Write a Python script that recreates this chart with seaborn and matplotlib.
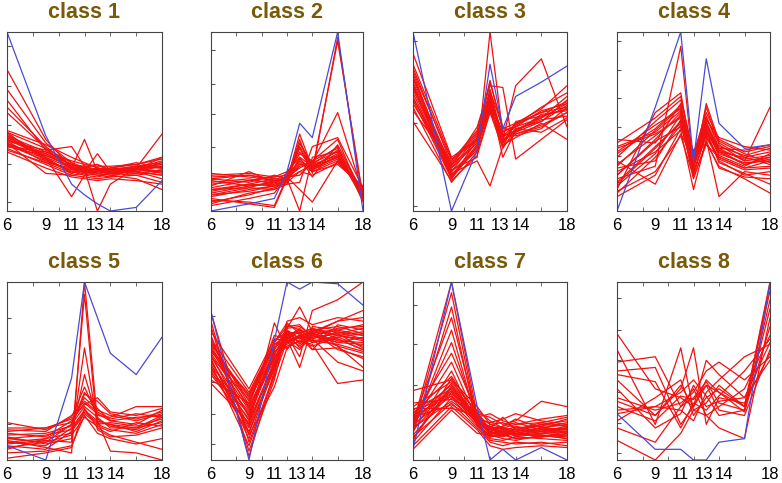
import matplotlib
matplotlib.use("Agg")
import matplotlib.pyplot as plt
import seaborn as sns
import pandas as pd

# sampling times (hours)
times = [6, 9, 11, 12, 13, 14, 16, 18]
tick_pos = [6, 9, 11, 12.8, 14.4, 18]
tick_labels = ["6", "9", "11", "13", "14", "18"]

# --- profiles (0 = panel bottom, 100 = panel top) ---
class1_red = [
    [40, 30, 24, 22, 24, 22, 24, 26], [42, 33, 26, 25, 22, 23, 22, 20],
    [38, 29, 22, 24, 21, 22, 24, 28], [36, 31, 25, 21, 23, 20, 23, 22],
    [44, 35, 27, 24, 26, 23, 25, 24], [34, 27, 21, 23, 20, 21, 22, 18],
    [39, 34, 36, 25, 23, 24, 26, 29], [41, 32, 24, 40, 22, 21, 23, 25],
    [37, 28, 23, 22, 32, 22, 21, 23], [35, 26, 20, 19, 18, 19, 20, 16],
    [33, 24, 19, 18, 17, 18, 17, 15], [58, 36, 25, 23, 22, 24, 23, 27],
    [62, 34, 26, 24, 21, 22, 24, 26], [68, 38, 27, 22, 24, 21, 25, 24],
    [79, 40, 24, 23, 22, 23, 22, 25], [55, 35, 23, 25, 26, 22, 21, 23],
    [43, 30, 8, 20, 22, 23, 24, 22], [40, 31, 25, 23, 0, 15, 24, 21],
    [38, 21, 20, 21, 20, 19, 24, 43], [36, 33, 28, 26, 25, 25, 26, 30],
    [42, 29, 22, 20, 19, 21, 22, 20], [39, 27, 24, 22, 21, 20, 18, 12],
    [45, 37, 30, 27, 24, 23, 25, 27], [41, 30, 21, 24, 22, 24, 27, 24],
    [37, 32, 26, 23, 23, 21, 20, 22], [44, 28, 22, 21, 24, 22, 23, 30],
]
class1_blue = [[100, 42, 15, 9, 4, 0, 2, 17]]

class2_red = [
    [18, 20, 17, 18, 38, 24, 30, 10], [15, 17, 16, 19, 35, 22, 28, 12],
    [12, 15, 18, 17, 30, 25, 32, 9], [20, 21, 19, 20, 28, 23, 29, 11],
    [8, 12, 14, 18, 25, 27, 33, 8], [5, 9, 13, 16, 22, 26, 31, 7],
    [3, 7, 10, 19, 24, 28, 35, 10], [10, 14, 15, 17, 43, 24, 30, 12],
    [14, 22, 16, 18, 40, 21, 97, 6], [16, 18, 15, 20, 36, 23, 95, 8],
    [12, 13, 17, 19, 20, 27, 55, 10], [9, 11, 14, 15, 16, 36, 41, 13],
    [7, 4, 2, 18, 0, 30, 33, 9], [6, 5, 3, 19, 12, 5, 28, 11],
    [18, 16, 20, 18, 27, 22, 26, 14], [21, 19, 17, 21, 33, 24, 34, 6],
    [13, 17, 19, 22, 30, 19, 37, 10], [11, 15, 14, 17, 26, 25, 30, 12],
    [17, 14, 16, 18, 22, 20, 27, 13], [4, 10, 12, 15, 38, 26, 36, 5],
    [19, 20, 18, 17, 29, 23, 31, 8], [9, 13, 12, 20, 32, 28, 40, 7],
]
class2_blue = [[0, 4, 7, 22, 49, 41, 100, 0]]

class3_red = [
    [88, 30, 40, 68, 40, 45, 52, 60], [80, 26, 38, 62, 44, 48, 55, 58],
    [75, 24, 42, 65, 38, 46, 50, 62], [70, 22, 35, 60, 42, 44, 54, 56],
    [66, 20, 37, 58, 36, 43, 48, 55], [62, 18, 40, 64, 41, 47, 56, 60],
    [58, 16, 33, 56, 39, 45, 51, 53], [78, 28, 45, 72, 46, 49, 57, 70],
    [72, 23, 30, 100, 43, 42, 46, 58], [68, 21, 28, 14, 36, 50, 53, 57],
    [60, 25, 47, 70, 69, 29, 40, 51], [64, 19, 36, 57, 40, 70, 85, 47],
    [56, 27, 44, 66, 37, 41, 49, 40], [82, 29, 39, 73, 45, 47, 52, 64],
    [50, 17, 31, 55, 35, 46, 44, 52], [74, 22, 41, 61, 42, 48, 58, 66],
    [69, 26, 43, 63, 40, 44, 50, 59], [77, 20, 34, 67, 47, 43, 47, 55],
    [63, 24, 38, 59, 38, 49, 55, 61], [71, 18, 36, 62, 30, 45, 53, 57],
]
class3_blue = [[100, 0, 34, 82, 46, 64, 72, 81]]

class4_red = [
    [20, 40, 55, 28, 48, 35, 28, 30], [15, 35, 50, 25, 45, 32, 27, 28],
    [25, 45, 58, 30, 52, 38, 30, 33], [10, 30, 48, 22, 42, 30, 24, 25],
    [30, 50, 62, 32, 55, 40, 33, 36], [35, 43, 52, 27, 50, 34, 29, 31],
    [40, 38, 60, 20, 44, 36, 31, 35], [18, 25, 92, 24, 47, 33, 26, 29],
    [12, 55, 66, 26, 58, 37, 28, 58], [22, 33, 45, 12, 40, 8, 22, 20],
    [28, 15, 43, 30, 38, 25, 18, 10], [8, 20, 46, 34, 41, 29, 23, 24],
    [33, 48, 57, 23, 60, 39, 32, 27], [26, 42, 53, 29, 46, 31, 25, 32],
    [16, 36, 49, 21, 43, 28, 20, 22], [38, 52, 64, 31, 53, 35, 34, 37],
    [24, 28, 51, 18, 39, 24, 19, 18], [14, 32, 54, 26, 49, 33, 30, 26],
    [32, 46, 59, 28, 51, 41, 36, 34], [20, 39, 47, 33, 45, 27, 21, 15],
    [36, 44, 56, 25, 44, 34, 26, 30], [11, 22, 42, 19, 37, 30, 24, 28],
]
class4_blue = [[0, 58, 100, 28, 85, 49, 35, 37]]

class5_red = [
    [10, 8, 18, 28, 22, 20, 16, 22], [12, 10, 20, 30, 24, 18, 18, 25],
    [15, 13, 22, 32, 26, 22, 20, 28], [8, 6, 16, 26, 20, 17, 15, 20],
    [18, 18, 21, 35, 28, 25, 22, 26], [21, 17, 24, 41, 25, 24, 30, 30],
    [6, 12, 15, 48, 23, 19, 17, 24], [13, 9, 12, 63, 20, 21, 19, 23],
    [11, 7, 4, 100, 22, 5, 4, 0], [9, 11, 10, 93, 17, 13, 14, 18],
    [14, 15, 19, 37, 33, 26, 23, 27], [16, 18, 23, 31, 35, 27, 25, 29],
    [4, 5, 8, 25, 15, 12, 9, 12], [1, 4, 7, 29, 18, 14, 10, 6],
    [12, 14, 17, 27, 21, 20, 18, 21], [17, 16, 25, 33, 27, 23, 26, 24],
    [7, 10, 14, 24, 19, 16, 21, 19], [10, 12, 20, 38, 29, 22, 24, 25],
]
class5_blue = [[8, 0, 46, 100, 80, 60, 48, 69]]

class6_red = [
    [62, 30, 60, 70, 68, 72, 70, 68], [58, 25, 58, 68, 72, 70, 66, 65],
    [55, 22, 55, 66, 70, 68, 72, 70], [52, 18, 52, 72, 66, 74, 68, 62],
    [50, 15, 54, 69, 74, 66, 70, 72], [60, 28, 62, 73, 65, 71, 67, 66],
    [65, 35, 64, 71, 69, 73, 75, 71], [68, 38, 66, 75, 76, 69, 71, 74],
    [72, 40, 68, 67, 62, 70, 64, 60], [83, 10, 48, 78, 80, 76, 80, 78],
    [75, 5, 45, 74, 86, 72, 78, 84], [78, 2, 50, 70, 58, 84, 90, 100],
    [48, 20, 77, 62, 71, 67, 69, 64], [45, 32, 70, 68, 52, 75, 73, 70],
    [53, 27, 57, 64, 67, 65, 43, 45], [57, 12, 53, 76, 73, 68, 55, 50],
    [63, 24, 61, 65, 70, 72, 62, 58], [66, 33, 63, 69, 64, 70, 73, 76],
    [59, 19, 56, 72, 71, 74, 70, 67], [54, 8, 47, 67, 69, 66, 68, 62],
    [61, 36, 65, 70, 72, 62, 76, 73], [49, 26, 59, 73, 68, 71, 66, 69],
    [56, 16, 51, 71, 63, 69, 71, 63], [64, 29, 58, 66, 70, 67, 65, 61],
    [70, 14, 41, 63, 67, 64, 69, 71], [51, 23, 62, 74, 75, 70, 74, 75],
    [67, 31, 67, 72, 66, 73, 72, 68], [43, 21, 54, 68, 69, 62, 63, 57],
    [58, 34, 60, 70, 73, 71, 78, 80], [62, 37, 66, 77, 71, 74, 64, 52],
]
class6_blue = [[83, 0, 67, 100, 96, 100, 99, 87]]

class7_red = [
    [20, 100, 25, 15, 16, 14, 17, 15], [18, 94, 22, 16, 14, 15, 13, 16],
    [15, 86, 20, 14, 17, 13, 15, 14], [22, 80, 24, 17, 15, 16, 18, 17],
    [17, 73, 21, 13, 16, 14, 14, 12], [19, 66, 23, 18, 18, 17, 16, 19],
    [24, 60, 26, 16, 14, 18, 19, 15], [21, 55, 22, 15, 17, 15, 17, 18],
    [16, 50, 20, 19, 15, 14, 15, 16], [26, 47, 25, 14, 13, 16, 18, 20],
    [39, 45, 30, 20, 18, 17, 20, 22], [30, 44, 27, 17, 16, 19, 16, 17],
    [25, 42, 23, 15, 14, 15, 14, 13], [12, 41, 21, 13, 15, 12, 13, 14],
    [28, 40, 24, 26, 22, 20, 23, 25], [23, 39, 22, 18, 24, 17, 15, 18],
    [14, 38, 20, 12, 11, 13, 12, 11], [27, 37, 26, 24, 20, 22, 33, 30],
    [20, 36, 21, 16, 19, 23, 18, 21], [10, 35, 19, 11, 10, 9, 10, 8],
    [32, 34, 28, 22, 18, 20, 21, 24], [18, 33, 22, 19, 17, 16, 20, 19],
    [13, 32, 18, 10, 8, 10, 9, 10], [24, 31, 23, 21, 23, 26, 22, 20],
    [8, 30, 17, 8, 6, 7, 8, 7], [29, 29, 25, 20, 21, 18, 19, 23],
    [6, 28, 15, 14, 12, 11, 14, 12], [21, 43, 24, 17, 19, 21, 17, 16],
    [17, 39, 22, 15, 16, 14, 16, 18], [25, 36, 23, 18, 15, 17, 21, 19],
    [11, 46, 20, 13, 14, 12, 13, 15], [19, 41, 24, 16, 18, 15, 18, 17],
]
class7_blue = [[6, 100, 30, 0, 6, 0, 7, 0]]

class8_red = [
    [71, 40, 35, 30, 45, 38, 30, 98], [62, 20, 63, 28, 32, 42, 30, 100],
    [55, 58, 30, 40, 25, 30, 40, 70], [45, 25, 40, 63, 20, 35, 32, 60],
    [35, 28, 32, 38, 50, 55, 45, 58], [30, 22, 36, 34, 42, 28, 25, 62],
    [28, 30, 28, 22, 38, 45, 58, 65], [40, 18, 26, 42, 30, 33, 35, 56],
    [22, 35, 45, 25, 35, 40, 30, 95], [18, 10, 30, 35, 44, 32, 28, 85],
    [11, 0, 15, 28, 25, 18, 12, 80], [50, 52, 20, 30, 42, 38, 27, 75],
    [33, 25, 42, 30, 56, 48, 35, 66], [26, 30, 38, 45, 36, 25, 28, 90],
    [48, 44, 18, 32, 28, 36, 50, 68],
]
class8_blue = [[26, 6, 6, 0, 0, 10, 12, 100]]

red_sets = [class1_red, class2_red, class3_red, class4_red,
            class5_red, class6_red, class7_red, class8_red]
blue_sets = [class1_blue, class2_blue, class3_blue, class4_blue,
             class5_blue, class6_blue, class7_blue, class8_blue]
yticks_per_class = [
    [5, 26, 48, 70, 92], [18, 36, 54, 71, 90], [3, 49, 95],
    [16, 31, 47, 63, 79, 95], [20, 39, 60, 80], [9, 26, 44, 63, 81],
    [20, 42, 65, 87], [4, 21, 38, 56, 73, 91],
]


def to_frame(red, blue):
    rows = []
    for k, prof in enumerate(red):
        for t, v in zip(times, prof):
            rows.append({"time": t, "value": v, "gene": f"r{k}", "kind": "red"})
    for k, prof in enumerate(blue):
        for t, v in zip(times, prof):
            rows.append({"time": t, "value": v, "gene": f"b{k}", "kind": "blue"})
    return pd.DataFrame(rows)


sns.set_style("white")
plt.rcParams["font.family"] = ["Liberation Sans", "DejaVu Sans"]

fig = plt.figure(figsize=(7.82, 4.83), dpi=100)
W, H = 782, 483
col_x = [(7, 162), (211, 363), (413, 567), (617, 770)]
row_y = [(32, 211), (282, 460)]

for i in range(8):
    r, c = divmod(i, 4)
    x0, x1 = col_x[c]
    y0, y1 = row_y[r]
    ax = fig.add_axes([x0 / W, 1 - y1 / H, (x1 - x0) / W, (y1 - y0) / H])

    df = to_frame(red_sets[i], blue_sets[i])
    sns.lineplot(data=df, x="time", y="value", units="gene", estimator=None,
                 hue="kind", palette={"red": "#f21010", "blue": "#4a4ad6"},
                 hue_order=["red", "blue"], legend=False, lw=0.9, ax=ax)

    ax.set_xlim(6, 18)
    ax.set_ylim(0, 100)
    ax.set_xlabel("")
    ax.set_ylabel("")
    ax.set_xticks(tick_pos)
    ax.set_xticklabels(tick_labels, fontsize=12)
    ax.set_xticks([8, 10, 12, 14, 16], minor=True)
    ax.tick_params(axis="x", which="major", length=0, pad=5, colors="black")
    ax.tick_params(axis="x", which="minor", bottom=True, top=True,
                   direction="in", length=3, color="#555555")
    ax.set_yticks(yticks_per_class[i])
    ax.set_yticklabels([])
    ax.tick_params(axis="y", left=True, direction="in", length=3,
                   color="#555555")
    for sp in ax.spines.values():
        sp.set_color("#444444")
        sp.set_linewidth(0.8)
    ax.set_title(f"class {i + 1}", fontsize=15.5, fontweight="bold",
                 color="#7a5a08", pad=10)

fig.savefig("out.png", dpi=100)
